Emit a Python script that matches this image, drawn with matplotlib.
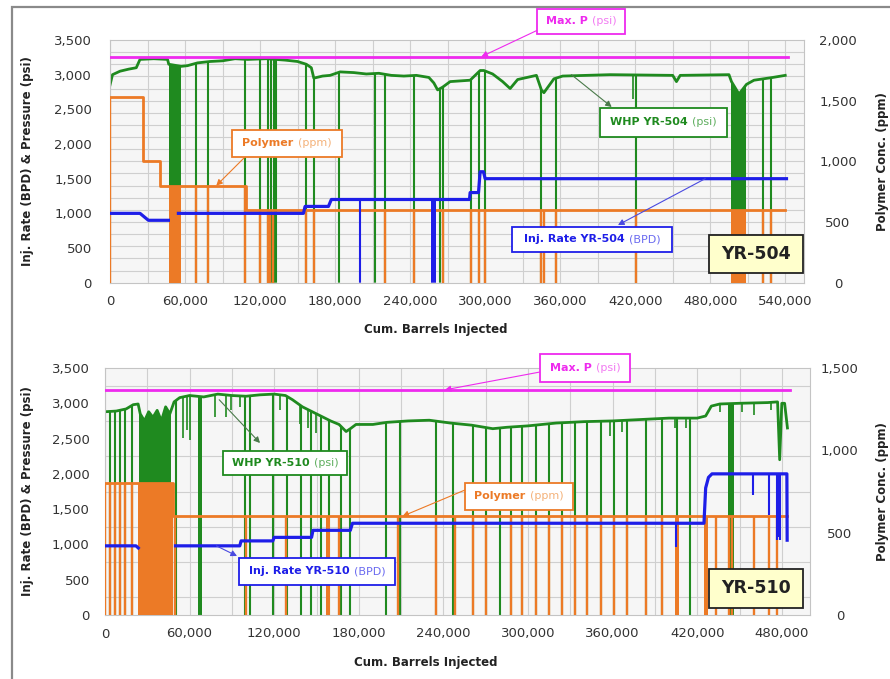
import numpy as np
import matplotlib
matplotlib.use("Agg")
import matplotlib.pyplot as plt
from matplotlib.path import Path
from matplotlib.patches import Rectangle
from matplotlib.offsetbox import TextArea, HPacker, AnnotationBbox
from matplotlib.ticker import MultipleLocator, FuncFormatter

plt.rcParams['font.family'] = ['DejaVu Sans']
nan = np.nan

# ======================= YR-504 (upper chart) =======================
t_maxp_x = [0, 542000]
t_maxp_psi = [3260, 3260]

t_whp_x = [0, 2000, 8000, 15000, 21000, 24000, 35000, 46000, 47000, 57000, 62000, 70000,
           80000, 90000, 100000, 110000, 125000, 140000, 150000, 157000, 161000, 163000,
           170000, 176000, 184000, 195000, 205000, 215000, 225000, 235000, 245000, 255000,
           259000, 262000, 266000, 272000, 288000, 296000, 299000, 306000, 314000, 320000,
           326000, 341000, 345000, 347000, 355000, 362000, 400000, 450000, 453000, 456000,
           495000, 497000, 503000, 509000, 515000, 530000, 540000]
t_whp_psi = [2850, 3000, 3050, 3080, 3100, 3220, 3230, 3220, 3150, 3120, 3130, 3170,
             3190, 3200, 3230, 3220, 3230, 3210, 3190, 3150, 3100, 2950,
             2980, 2990, 3040, 3030, 3010, 3020, 2990, 2980, 2990, 2960,
             2880, 2780, 2820, 2900, 2920, 3060, 3060, 3010, 2900, 2800,
             2930, 2990, 2780, 2740, 2940, 2980, 3000, 2990, 2900, 2990,
             3000, 2900, 2720, 2860, 2920, 2960, 2990]
t_whp_drops = [69000, 78000, 108000, 120000, 126000, 129000, 131000, 133000, 157000, 163000,
               183000, 212000, 220000, 243000, 264000, 266000, 289000, 295000, 300000,
               345000, 357000, 421000, 522000, 529000]
t_whp_band_start = [47000, 497000]
t_whp_band_end = [57000, 509000]
t_whp_dip_x = [418000]
t_whp_dip_psi = [2650]

t_poly_x = [0, 26000, 40000, 109000, 540000]
t_poly_ppm = [1530, 1000, 800, 600, 600]
t_poly_drops = [0, 69000, 78000, 108000, 120000, 126000, 128000, 130000, 157000, 163000,
                220000, 243000, 266000, 289000, 295000, 300000, 345000, 347000, 357000,
                421000, 522000, 529000]
t_poly_band_start = [47000, 497000]
t_poly_band_end = [57000, 509000]

t_rate_x = [0, 24000, 30700, 46700, 46700, 54700, 154700, 156000, 174700, 177000, 287500,
            288000, 294700, 296000, 298700, 300000, 541000]
t_rate_bpd = [1000, 1000, 900, 900, nan, 1000, 1000, 1100, 1100, 1200, 1200,
              1300, 1300, 1600, 1600, 1500, 1500]
t_rate_drops = [200000]
t_rate_band_start = [257000]
t_rate_band_end = [261000]
t_rate_dip_x = []
t_rate_dip_bpd = []

# ======================= YR-510 (lower chart) =======================
b_maxp_x = [0, 486000]
b_maxp_psi = [3190, 3190]

b_whp_x = [0, 8000, 15000, 20000, 23500, 25000, 28000, 31000, 34000, 37000, 40000, 43000,
           46000, 49000, 53000, 60000, 70000, 80000, 90000, 100000, 110000, 120000, 128000,
           133000, 140000, 150000, 160000, 166000, 171000, 174000, 178000, 190000, 200000,
           215000, 230000, 245000, 260000, 275000, 285000, 300000, 320000, 340000, 360000,
           380000, 400000, 420000, 426000, 430000, 436000, 450000, 470000, 477000, 478500,
           480000, 482000, 484000]
b_whp_psi = [2880, 2890, 2920, 2980, 2990, 2850, 2750, 2880, 2800, 2900, 2750, 2950,
             2850, 3020, 3080, 3110, 3090, 3130, 3110, 3100, 3120, 3130, 3110,
             3050, 2950, 2850, 2750, 2700, 2600, 2640, 2700, 2700, 2730,
             2750, 2760, 2720, 2690, 2640, 2660, 2680, 2720, 2740, 2750,
             2770, 2790, 2790, 2820, 2960, 2990, 3000, 3010, 3020, 2200,
             3000, 3000, 2650]
b_whp_drops = [3500, 7000, 10500, 14000, 19000, 50700, 99000, 102700, 119000, 129000,
               139000, 146000, 153000, 159000, 167600, 173500, 199400, 209000, 235000,
               247000, 261000, 270000, 280000, 288000, 296000, 306000, 315000, 324000,
               333000, 342000, 352000, 361000, 370000, 383500, 395000, 406000, 415000]
b_whp_band_start = [24000, 66000, 442000]
b_whp_band_end = [47000, 68500, 446000]
b_whp_dip_x = [55500, 58300, 60200, 77900, 86100, 89700, 95600, 124000, 138000, 144000,
               149900, 358000, 367000, 404000, 412000, 436000, 452000, 460000, 472000]
b_whp_dip_psi = [2510, 2620, 2480, 2800, 2810, 2900, 2950, 2900, 2700, 2650,
                 2580, 2530, 2600, 2650, 2650, 2870, 2870, 2840, 2900]

b_poly_x = [0, 48400, 483600]
b_poly_ppm = [800, 600, 600]
b_poly_drops = [0, 3500, 7000, 10500, 14000, 19000, 49600, 100000, 128600, 166000,
                207700, 235000, 248000, 261000, 270000, 288000, 296000, 306000, 315000,
                324000, 333000, 342000, 352000, 361000, 370000, 383500, 395000, 433000,
                442500, 444500, 460000, 471000, 476500]
b_poly_band_start = [23600, 157000, 404500, 424500]
b_poly_band_end = [48400, 159500, 407000, 427500]

b_rate_x = [0, 22000, 23600, 23600, 50000, 95600, 96500, 119000, 120000, 146500, 147500,
            174000, 175500, 424800, 426000, 428000, 430500, 483600, 483800]
b_rate_bpd = [980, 980, 950, nan, 980, 980, 1050, 1050, 1100, 1100, 1200,
              1200, 1300, 1300, 1800, 1950, 2000, 2000, 1060]
b_rate_drops = []
b_rate_band_start = []
b_rate_band_end = []
b_rate_dip_x = [405000, 459500, 471000, 476700, 477800, 479000]
b_rate_dip_bpd = [970, 1700, 1420, 1060, 1100, 1060]

# ======================= drawing =======================
W, H = 890, 679
fig = plt.figure(figsize=(W / 100, H / 100), dpi=100)

GREEN = '#1f8a1f'
ORANGE = '#ec7a26'
BLUE = '#1e1ee8'
MAGENTA = '#ee2aee'
TXT = '#333333'
fmt = FuncFormatter(lambda v, p: f'{v:,.0f}')


def fp(x, y):
    return (x / W, 1 - y / H)


def under_path(ax, x, y, step=None):
    coll = ax.fill_between(x, 0, y, step=step, facecolor='none', edgecolor='none', linewidth=0)
    path = Path.make_compound_path(*coll.get_paths())
    coll.remove()
    return path


def clipped_vlines(ax, path, xs, bottoms, color, lw):
    if len(xs) == 0:
        return
    lc = ax.vlines(xs, bottoms, 1e6, colors=color, linewidth=lw)
    lc.set_clip_path(path, ax.transData)


def clipped_bands(ax, path, starts, ends, color):
    for s, e in zip(starts, ends):
        p = ax.axvspan(s, e, facecolor=color, edgecolor='none', linewidth=0)
        p.set_clip_path(path, ax.transData)


def panel(rect, xmax, ppm_max, grid_step, tick_pads,
          whp_x, whp_y, whp_drops, whp_bs, whp_be, whp_dx, whp_dy,
          poly_x, poly_y, poly_drops, poly_bs, poly_be,
          rate_x, rate_y, rate_drops, rate_bs, rate_be, rate_dx, rate_dy,
          maxp_x, maxp_y):
    l, t, r, b = rect
    ax = fig.add_axes([l / W, 1 - b / H, (r - l) / W, (b - t) / H])
    ax.set_facecolor('#f6f6f6')
    # WHP (green)
    p = under_path(ax, whp_x, whp_y)
    clipped_vlines(ax, p, whp_drops, 0, GREEN, 1.5)
    clipped_vlines(ax, p, whp_dx, whp_dy, GREEN, 1.2)
    clipped_bands(ax, p, whp_bs, whp_be, GREEN)
    ax.plot(whp_x, whp_y, color=GREEN, lw=2.0)
    # polymer (orange) on secondary axis
    ax2 = ax.twinx()
    p2 = under_path(ax2, poly_x, poly_y, step='post')
    clipped_vlines(ax2, p2, poly_drops, 0, ORANGE, 1.7)
    clipped_bands(ax2, p2, poly_bs, poly_be, ORANGE)
    ax2.step(poly_x, poly_y, where='post', color=ORANGE, lw=2.0)
    # rate (blue) + max P (magenta) on top layer, pressure scale
    ax3 = ax.twinx()
    p3 = under_path(ax3, rate_x, rate_y)
    clipped_vlines(ax3, p3, rate_drops, 0, BLUE, 1.5)
    clipped_vlines(ax3, p3, rate_dx, rate_dy, BLUE, 1.5)
    clipped_bands(ax3, p3, rate_bs, rate_be, BLUE)
    ax3.plot(rate_x, rate_y, color=BLUE, lw=2.3)
    ax3.plot(maxp_x, maxp_y, color=MAGENTA, lw=2.0)

    ax.set_xlim(0, xmax)
    ax.set_ylim(0, 3500)
    ax.xaxis.set_major_locator(MultipleLocator(60000))
    ax.xaxis.set_minor_locator(MultipleLocator(30000))
    ax.yaxis.set_major_locator(MultipleLocator(500))
    ax.yaxis.set_minor_locator(MultipleLocator(grid_step))
    ax.xaxis.set_major_formatter(fmt)
    ax.yaxis.set_major_formatter(fmt)
    ax.grid(True, axis='x', which='both', color='#cfcfcf', lw=0.8)
    ax.grid(True, axis='y', which='minor', color='#cfcfcf', lw=0.8)
    ax.grid(False, axis='y', which='major')
    ax.set_axisbelow(True)
    ax.tick_params(which='both', length=0)
    ax.tick_params(axis='y', pad=tick_pads[0], labelsize=9.5, labelcolor=TXT)
    ax.tick_params(axis='x', pad=9, labelsize=9.5, labelcolor=TXT)
    for s in ax.spines.values():
        s.set_color('#c4c4c4')
        s.set_linewidth(0.8)

    ax2.set_ylim(0, ppm_max)
    ax2.set_yticks(np.arange(0, ppm_max + 1, 500))
    ax2.yaxis.set_major_formatter(fmt)
    ax2.tick_params(axis='y', length=0, pad=tick_pads[1], labelsize=9.5, labelcolor=TXT)
    plt.setp(ax2.get_yticklabels(), ha='center')
    for s in ax2.spines.values():
        s.set_visible(False)

    ax3.set_ylim(0, 3500)
    ax3.axis('off')

    ax.set_xlabel('Cum. Barrels Injected', fontsize=8.5, fontweight='bold', color='#222222')
    ax.set_ylabel('Inj. Rate (BPD) & Pressure (psi)', fontsize=8.5, fontweight='bold', color='#222222')
    ax2.set_ylabel('Polymer Conc. (ppm)', fontsize=8.5, fontweight='bold', color='#222222')
    return ax, ax2, ax3


def box(cx, cy, w, h, edge, face='white', lw=1.3):
    fig.add_artist(Rectangle(fp(cx - w / 2, cy + h / 2), w / W, h / H, transform=fig.transFigure,
                             facecolor=face, edgecolor=edge, linewidth=lw, zorder=5))


def callout(cx, cy, w, h, bold, light, color, lightcolor, fs=8):
    box(cx, cy, w, h, color)
    t1 = TextArea(bold, textprops=dict(color=color, fontweight='bold', fontsize=fs))
    t2 = TextArea(light, textprops=dict(color=lightcolor, fontsize=fs))
    pk = HPacker(children=[t1, t2], sep=3, pad=0, align='baseline')
    ab = AnnotationBbox(pk, fp(cx, cy), xycoords='figure fraction', frameon=False,
                        box_alignment=(0.5, 0.5), zorder=6)
    fig.add_artist(ab)


def arrow(ax, xy, xycoords, xytext, textcoords, color):
    ax.annotate('', xy=xy, xycoords=xycoords, xytext=xytext, textcoords=textcoords,
                arrowprops=dict(arrowstyle='-|>,head_length=0.35,head_width=0.18',
                                color=color, lw=0.8, shrinkA=0, shrinkB=0),
                annotation_clip=False)


# ---------- upper chart ----------
ax, ax2, ax3 = panel((110, 40, 804, 282.7), 555000, 2000, 175, (13, 24.5),
                     t_whp_x, t_whp_psi, t_whp_drops, t_whp_band_start, t_whp_band_end,
                     t_whp_dip_x, t_whp_dip_psi,
                     t_poly_x, t_poly_ppm, t_poly_drops, t_poly_band_start, t_poly_band_end,
                     t_rate_x, t_rate_bpd, t_rate_drops, t_rate_band_start, t_rate_band_end,
                     t_rate_dip_x, t_rate_dip_bpd, t_maxp_x, t_maxp_psi)
ax.xaxis.set_label_coords(0.47, -0.165)
ax.yaxis.set_label_coords(-0.11, 0.5)
ax2.yaxis.set_label_coords(1.104, 0.5)

arrow(ax3, (297000, 3260), 'data', fp(540, 29), 'figure fraction', MAGENTA)
arrow(ax2, (85000, 800), 'data', fp(245, 157), 'figure fraction', ORANGE)
arrow(ax3, fp(611.7, 107), 'figure fraction', (369000, 3000), 'data', '#4a7a4a')
arrow(ax3, fp(618, 225), 'figure fraction', (476000, 1500), 'data', '#4a4ae0')

callout(581, 21, 88, 25, 'Max. P', '(psi)', MAGENTA, '#f27cf2')
callout(287, 143, 110, 27, 'Polymer', '(ppm)', ORANGE, '#f4b27a')
callout(663, 122, 127, 29, 'WHP YR-504', '(psi)', GREEN, '#5fae5f')
callout(592, 239, 160, 25, 'Inj. Rate YR-504', '(BPD)', BLUE, '#6a6af0')
box(756, 254, 94, 38, '#222222', face='#ffffcc')
fig.text(*fp(756, 254), 'YR-504', ha='center', va='center', fontsize=12.5,
         fontweight='bold', color='#222222', zorder=6)

# ---------- lower chart ----------
bx, bx2, bx3 = panel((105, 368, 810, 615), 500000, 1500, 250, (11, 21.5),
                     b_whp_x, b_whp_psi, b_whp_drops, b_whp_band_start, b_whp_band_end,
                     b_whp_dip_x, b_whp_dip_psi,
                     b_poly_x, b_poly_ppm, b_poly_drops, b_poly_band_start, b_poly_band_end,
                     b_rate_x, b_rate_bpd, b_rate_drops, b_rate_band_start, b_rate_band_end,
                     b_rate_dip_x, b_rate_dip_bpd, b_maxp_x, b_maxp_psi)
bx.xaxis.set_label_coords(0.455, -0.165)
bx.yaxis.set_label_coords(-0.10, 0.5)
bx2.yaxis.set_label_coords(1.094, 0.5)

arrow(bx3, (241000, 3190), 'data', fp(540, 372), 'figure fraction', MAGENTA)
arrow(bx3, fp(260, 443), 'figure fraction', (81000, 3050), 'data', '#4a7a4a')
arrow(bx3, fp(237, 556), 'figure fraction', (79000, 980), 'data', '#4a4ae0')
arrow(bx2, (211000, 600), 'data', fp(465, 490), 'figure fraction', ORANGE)

callout(585, 368, 90, 28, 'Max. P', '(psi)', MAGENTA, '#f27cf2')
callout(285, 463, 124, 24, 'WHP YR-510', '(psi)', GREEN, '#5fae5f')
callout(317, 571, 156, 27, 'Inj. Rate YR-510', '(BPD)', BLUE, '#6a6af0')
callout(519, 496, 108, 27, 'Polymer', '(ppm)', ORANGE, '#f4b27a')
box(756, 588, 94, 39, '#222222', face='#ffffcc')
fig.text(*fp(756, 588), 'YR-510', ha='center', va='center', fontsize=12.5,
         fontweight='bold', color='#222222', zorder=6)

# outer frame
fig.add_artist(Rectangle((12 / W, -0.02), 1.0, 1 - 7 / H + 0.02, transform=fig.transFigure,
                         facecolor='none', edgecolor='#8a8a8a', linewidth=1.6, zorder=0))

fig.savefig('out.png', dpi=100)
